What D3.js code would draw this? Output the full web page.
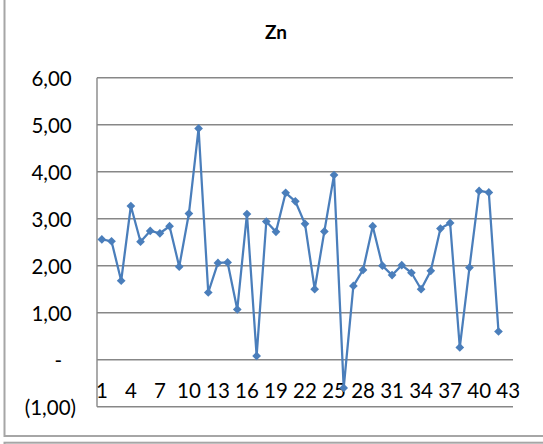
<!DOCTYPE html>
<html>
<head>
<meta charset="utf-8">
<script src="https://cdn.jsdelivr.net/npm/d3@7"></script>
<style>
  html, body { margin: 0; padding: 0; background: #fff; }
  svg { display: block; }
</style>
</head>
<body>
<div id="chart"></div>
<script>
// Data
const categories = ["1","2","3","4","5","6","7","8","9","10","11","12","13","14","15","16","17","18","19","20","21","22","23","24","25","26","27","28","29","30","31","32","33","34","35","36","37","38","39","40","41","42","43"];
const znValues = [2.56, 2.52, 1.68, 3.27, 2.51, 2.74, 2.69, 2.84, 1.98, 3.11,
                  4.92, 1.43, 2.06, 2.07, 1.07, 3.10, 0.08, 2.94, 2.72, 3.55,
                  3.37, 2.89, 1.50, 2.73, 3.93, -0.60, 1.57, 1.91, 2.84, 2.00,
                  1.80, 2.01, 1.85, 1.50, 1.89, 2.79, 2.91, 0.26, 1.96, 3.59,
                  3.56, 0.60, null];
const yTicks = [-1, 0, 1, 2, 3, 4, 5, 6];
const xTickLabels = ["1","4","7","10","13","16","19","22","25","28","31","34","37","40","43"];

const W = 543, H = 444;
const [plotLeft, plotRight, plotTop, plotBottom] = [97, 513, 77.7, 406.7];
const font = "Lato, 'Open Sans', sans-serif";
const gridColor = "#878787", lineColor = "#4A7EBB";

const svg = d3.select("#chart").append("svg")
    .attr("width", W)
    .attr("height", H);

// chart frame (right and top edges fall outside the window)
svg.append("rect")
    .attr("x", 4.5).attr("y", -10)
    .attr("width", 560).attr("height", 446)
    .attr("fill", "none")
    .attr("stroke", "#a6a6a6")
    .attr("stroke-width", 2);
svg.append("rect")
    .attr("x", 4.5).attr("y", 442.7)
    .attr("width", 560).attr("height", 20)
    .attr("fill", "none")
    .attr("stroke", "#a6a6a6")
    .attr("stroke-width", 2);

// title
svg.append("text")
    .attr("x", 276).attr("y", 39)
    .attr("text-anchor", "middle")
    .style("font-family", font)
    .style("font-weight", "bold")
    .style("font-size", "19px")
    .text("Zn");

// scales
const x = d3.scaleBand()
    .domain(categories)
    .range([plotLeft, plotRight]);
const y = d3.scaleLinear()
    .domain([-1, 6])
    .range([plotBottom, plotTop]);

// horizontal gridlines
svg.append("g")
    .selectAll("line")
    .data(yTicks)
    .enter()
    .append("line")
    .attr("x1", plotLeft).attr("x2", plotRight)
    .attr("y1", d => y(d)).attr("y2", d => y(d))
    .attr("stroke", gridColor)
    .attr("stroke-width", 1.4);

// vertical axis line
svg.append("line")
    .attr("x1", plotLeft).attr("x2", plotLeft)
    .attr("y1", y(6)).attr("y2", y(-1))
    .attr("stroke", gridColor)
    .attr("stroke-width", 1.4);

// y axis labels, accounting style
const fmt = d => {
    if (d === 0) return "-";
    const s = Math.abs(d).toFixed(2).replace(".", ",");
    return d < 0 ? `(${s})` : s;
};
const yAxis = d3.axisLeft(y)
    .tickValues(yTicks)
    .tickSize(0)
    .tickPadding(plotLeft - 71.7)
    .tickFormat(fmt);
const gy = svg.append("g")
    .attr("transform", `translate(${plotLeft},0)`)
    .call(yAxis);
gy.select(".domain").remove();
gy.selectAll("text")
    .attr("dx", d => d < 0 ? 4.3 : d === 0 ? -9.7 : 0)
    .attr("dy", "0.36em")
    .attr("fill", "#000")
    .style("font-family", font)
    .style("font-size", "20.5px");

// x axis labels
const xAxis = d3.axisBottom(x)
    .tickValues(xTickLabels)
    .tickSize(0);
const gx = svg.append("g")
    .attr("transform", `translate(0,${y(0)})`)
    .call(xAxis);
gx.select(".domain").remove();
gx.selectAll("text")
    .attr("y", 398.5 - y(0))
    .attr("dy", null)
    .attr("fill", "#000")
    .style("font-family", font)
    .style("font-size", "20.5px");

// series line
const pts = categories.map((c, i) => [c, znValues[i]]);
const line = d3.line()
    .defined(d => d[1] !== null)
    .x(d => x(d[0]) + x.bandwidth() / 2)
    .y(d => y(d[1]));
svg.append("path")
    .datum(pts)
    .attr("d", line)
    .attr("fill", "none")
    .attr("stroke", lineColor)
    .attr("stroke-width", 2.25)
    .attr("stroke-linejoin", "round");

// diamond markers
const diamond = d3.symbol().type(d3.symbolSquare).size(38);
svg.append("g")
    .selectAll("path")
    .data(pts.filter(d => d[1] !== null))
    .enter()
    .append("path")
    .attr("d", diamond)
    .attr("transform", d => `translate(${x(d[0]) + x.bandwidth() / 2},${y(d[1])}) rotate(45)`)
    .attr("fill", lineColor);
</script>
</body>
</html>
